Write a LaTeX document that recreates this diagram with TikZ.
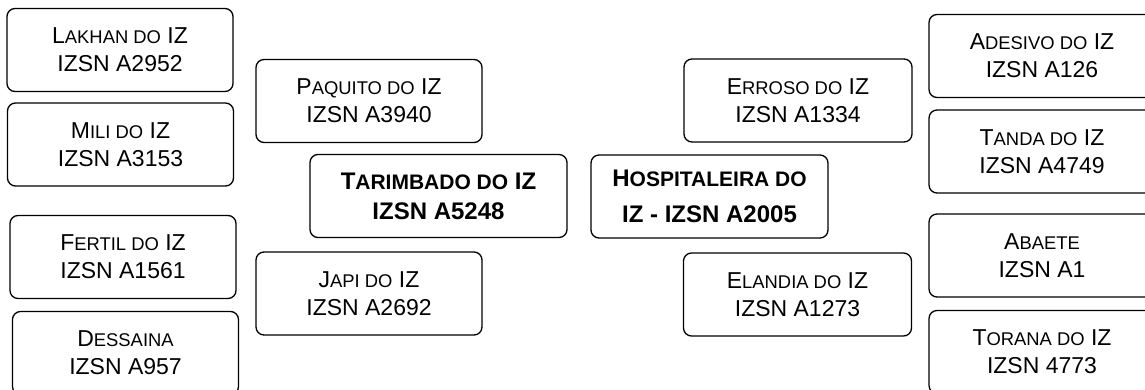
\documentclass[tikz,border=0pt]{standalone}
\usepackage{fontspec}
\setmainfont{Liberation Sans}
\usepackage{tikz}
\usetikzlibrary{positioning}

% fake small caps: first letter full size, rest smaller
\newcommand{\fsc}[2]{#1{\fontsize{18.4}{20}\selectfont #2}}
\newcommand{\fscb}[2]{#1{\fontsize{21}{24}\selectfont #2}}

\begin{document}
\begin{tikzpicture}[x=1pt,y=-1pt,
    animal/.style={draw, rounded corners=8pt, line width=1.3pt, minimum width=226pt,
      minimum height=83pt, inner sep=0pt, align=center, font=\fontsize{23}{28}\selectfont},
    parent/.style={animal, font=\bfseries\fontsize{24}{30}\selectfont}]
      \useasboundingbox (0,0) rectangle (1145,389);

      % left side
      \node[animal] (lakhan)   at (120,50)    {\fsc{L}{AKHAN DO} IZ\\IZSN A2952};
      \node[animal] (mili)     at (120.5,144.5) {\fsc{M}{ILI DO} IZ\\IZSN A3153};
      \node[animal] (fertil)   at (123,257)   {\fsc{F}{ERTIL DO} IZ\\IZSN A1561};
      \node[animal] (dessaina) at (125.5,353) {\fsc{D}{ESSAINA}\\IZSN A957};
      \node[animal] (paquito)  at (369,101)   {\fsc{P}{AQUITO DO} IZ\\IZSN A3940};
      \node[animal] (japi)     at (369,293.5) {\fsc{J}{API DO} IZ\\IZSN A2692};
      \node[parent, minimum width=257pt] (tarimbado) at (438.5,196) {\fscb{T}{ARIMBADO DO} IZ\\IZSN A5248};

      % right side
      \node[parent, minimum width=237pt] (hospitaleira) at (709.5,196.5) {\fscb{H}{OSPITALEIRA DO}\\[6pt]IZ - IZSN A2005};
      \node[animal, minimum width=228pt] (erroso)  at (798,100.5) {\fsc{E}{RROSO DO} IZ\\IZSN A1334};
      \node[animal, minimum width=228pt] (elandia) at (797.5,294.5) {\fsc{E}{LANDIA DO} IZ\\IZSN A1273};
      \node[animal] (adesivo) at (1042,56)    {\fsc{A}{DESIVO DO} IZ\\IZSN A126};
      \node[animal] (tanda)   at (1042,151.5) {\fsc{T}{ANDA DO} IZ\\IZSN A4749};
      \node[animal] (abaete)  at (1042,255.5) {\fsc{A}{BAETE}\\IZSN A1};
      \node[animal] (torana)  at (1042,352)   {\fsc{T}{ORANA DO} IZ\\IZSN 4773};
\end{tikzpicture}
\end{document}
